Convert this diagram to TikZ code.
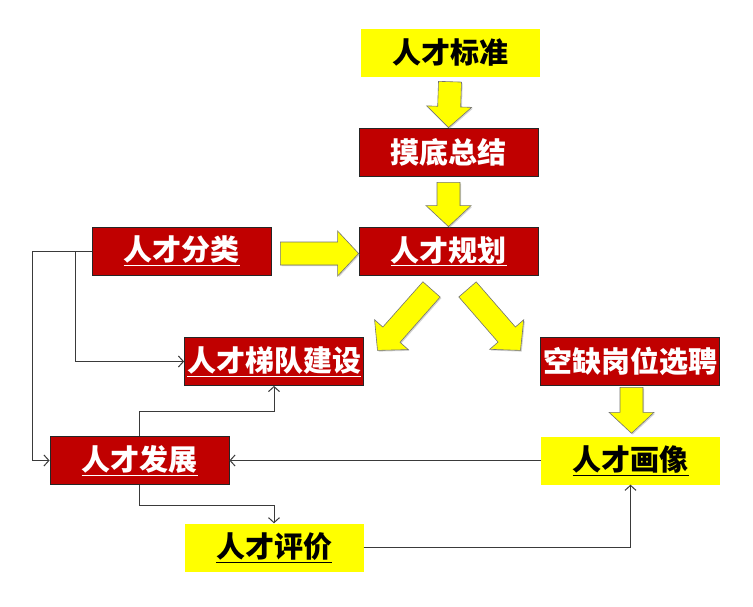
\documentclass[tikz,border=0pt]{standalone}
\usepackage{fontspec}
\newfontfamily\cjk{Noto Sans CJK SC}
\usetikzlibrary{calc,arrows.meta,shadows}
\definecolor{boxred}{HTML}{C00000}
\definecolor{boxyel}{HTML}{FFFF00}
\definecolor{linegray}{HTML}{3A3A3A}
\tikzset{
 base/.style={minimum width=179pt, minimum height=48pt, inner sep=0pt, font=\cjk\bfseries\fontsize{29}{32}\selectfont},
 redbox/.style={base, fill=boxred, draw=black!85, line width=0.8pt, text=white},
 yelbox/.style={base, fill=boxyel, text=black},
 conn/.style={draw=linegray, line width=1pt},
 connarr/.style={conn, -{Straight Barb[length=5pt,width=11pt,line width=1pt]}},
 blockarr/.style={fill=boxyel, draw=black!55, line width=0.6pt, line join=miter, drop shadow={opacity=0.35, shadow xshift=1.2pt, shadow yshift=-1.2pt}},
}
\newcommand{\blockarrow}[2]{%
 \coordinate (bah) at ($(#2)!21pt!(#1)$);
 \path[blockarr] ($(#1)!11.5pt!90:(#2)$) -- ($(bah)!11.5pt!90:(#2)$) -- ($(bah)!22.5pt!90:(#2)$) -- (#2) -- ($(bah)!22.5pt!-90:(#2)$) -- ($(bah)!11.5pt!-90:(#2)$) -- ($(#1)!11.5pt!-90:(#2)$) -- cycle;
}
\begin{document}
\begin{tikzpicture}[x=1pt,y=-1pt]
\useasboundingbox[fill=white] (0,0) rectangle (753,606);
\node[yelbox] (std) at (450,52.5) {人才标准};
\node[redbox] (sum) at (448.5,152) {摸底总结};
\node[redbox] (plan) at (448.5,251) {\underline{人才规划}};
\node[redbox] (cls) at (181.5,251) {\underline{人才分类}};
\node[redbox] (lad) at (274,361.5) {\underline{人才梯队建设}};
\node[redbox] (vac) at (630,361.5) {空缺岗位选聘};
\node[yelbox] (por) at (630.5,460.5) {\underline{人才画像}};
\node[redbox] (dev) at (139.5,460.5) {\underline{人才发展}};
\node[yelbox] (eva) at (274,547.5) {\underline{人才评价}};

\coordinate (a1) at ($(std.south)+(0,5)$);
\coordinate (b1) at (sum.north);
\coordinate (a2) at ($(sum.south)+(0,6)$);
\coordinate (b2) at (plan.north);
\coordinate (a3) at ($(cls.east)+(9,2.5)$);
\coordinate (b3) at ($(plan.west)+(0,2.5)$);
\coordinate (a4) at ($(plan.south)+(-17,14)$);
\coordinate (b4) at ($(plan.south)+(-71,75)$);
\coordinate (a5) at ($(plan.south)+(19,14)$);
\coordinate (b5) at ($(plan.south)+(72,75)$);
\coordinate (a6) at ($(vac.south)+(1.5,1.5)$);
\coordinate (b6) at ($(por.north)+(1,-3)$);
\blockarrow{a1}{b1}
\blockarrow{a2}{b2}
\blockarrow{a3}{b3}
\blockarrow{a4}{b4}
\blockarrow{a5}{b5}
\blockarrow{a6}{b6}

\coordinate (br) at ($(cls.west)+(-16,0)$);
\draw[connarr] (cls.west) -- ++(-59,0) |- (dev.west);
\draw[connarr] (br) |- (lad.west);
\draw[connarr] (dev.north) |- ($(lad.south)+(0,26)$) -- (lad.south);
\draw[connarr] (dev.south) |- ($(eva.north)+(0,-18)$) -- (eva.north);
\draw[connarr] (por.west) -- (dev.east);
\draw[connarr] (eva.east) -| (por.south);
\end{tikzpicture}
\end{document}
